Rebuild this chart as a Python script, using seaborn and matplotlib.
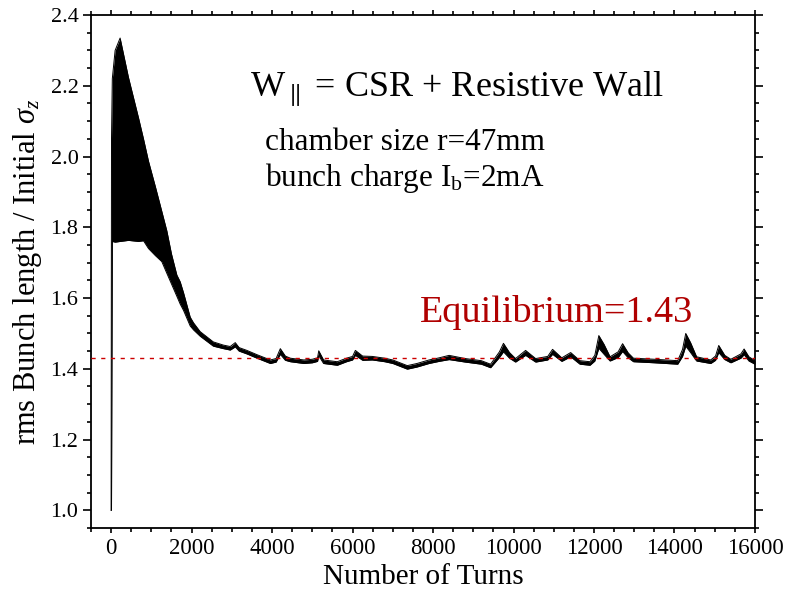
import numpy as np
import pandas as pd
import matplotlib
matplotlib.use("Agg")
import matplotlib.pyplot as plt
import seaborn as sns

# ---------------- data ----------------
# early phase: fast oscillation envelope (turn, lower, upper)
early_turns = [0, 10, 30, 100, 224, 431, 680, 805, 929, 1100, 1260, 1385,
               1500, 1634, 1717, 1800, 1966, 2048, 2214]
early_upper = [1.00, 2.05, 2.22, 2.30, 2.335, 2.224, 2.110, 2.050, 1.987, 1.915,
               1.845, 1.790, 1.725, 1.665, 1.646, 1.615, 1.546, 1.530, 1.505]
early_lower = [1.00, 1.00, 1.760, 1.758, 1.760, 1.763, 1.760, 1.762, 1.740, 1.720,
               1.703, 1.670, 1.640, 1.605, 1.583, 1.565, 1.521, 1.510, 1.492]

# later phase: centre of the band and its half width
late_turns = [2214, 2540, 2790, 2960, 3085, 3180, 3375, 3624, 3956, 4100, 4205,
              4330, 4454, 4790, 5000, 5130, 5160, 5280, 5620, 5850, 6000, 6070,
              6250, 6490, 6800, 7000, 7360, 7600, 7900, 8150, 8400, 8800, 9200,
              9430, 9650, 9750, 9900, 10050, 10300, 10550, 10850, 10970, 11200,
              11420, 11650, 11900, 12020, 12120, 12250, 12400, 12600, 12710,
              12850, 12980, 13500, 14080, 14200, 14280, 14400, 14550, 14900,
              15020, 15100, 15250, 15400, 15650, 15730, 15850, 16000]
late_center = [1.498, 1.470, 1.462, 1.458, 1.468, 1.455, 1.447, 1.435, 1.420, 1.424,
               1.449, 1.430, 1.425, 1.420, 1.422, 1.426, 1.444, 1.420, 1.415, 1.425,
               1.430, 1.445, 1.430, 1.430, 1.425, 1.420, 1.404, 1.410, 1.420, 1.426,
               1.432, 1.424, 1.418, 1.408, 1.440, 1.460, 1.438, 1.424, 1.445, 1.424,
               1.430, 1.448, 1.426, 1.440, 1.418, 1.415, 1.430, 1.476, 1.455, 1.428,
               1.440, 1.460, 1.438, 1.425, 1.422, 1.418, 1.445, 1.482, 1.460, 1.428,
               1.420, 1.430, 1.456, 1.432, 1.422, 1.436, 1.448, 1.428, 1.418]
late_halfw = [0.008, 0.006, 0.005, 0.005, 0.006, 0.005, 0.005, 0.005, 0.005, 0.005,
              0.008, 0.006, 0.005, 0.005, 0.005, 0.005, 0.007, 0.005, 0.005, 0.005,
              0.005, 0.007, 0.006, 0.005, 0.005, 0.005, 0.005, 0.005, 0.005, 0.005,
              0.006, 0.005, 0.005, 0.005, 0.008, 0.012, 0.008, 0.005, 0.007, 0.005,
              0.005, 0.007, 0.005, 0.006, 0.005, 0.005, 0.008, 0.018, 0.014, 0.006,
              0.008, 0.011, 0.007, 0.005, 0.005, 0.005, 0.010, 0.018, 0.014, 0.006,
              0.005, 0.006, 0.010, 0.006, 0.005, 0.006, 0.008, 0.006, 0.005]

equilibrium = 1.43

x_ticks = [0, 2000, 4000, 6000, 8000, 10000, 12000, 14000, 16000]
y_ticks = [1.0, 1.2, 1.4, 1.6, 1.8, 2.0, 2.2, 2.4]

# ---------------- build table ----------------
late_c = np.array(late_center)
late_h = np.array(late_halfw)
df = pd.DataFrame({
    "turn": list(early_turns) + list(late_turns[1:]),
    "lower": list(early_lower) + list((late_c - late_h)[1:]),
    "upper": list(early_upper) + list((late_c + late_h)[1:]),
})

# ---------------- style ----------------
sns.set_theme(style="ticks")
plt.rcParams["font.family"] = ["Liberation Serif", "DejaVu Serif"]
plt.rcParams["mathtext.fontset"] = "custom"
plt.rcParams["mathtext.rm"] = "Liberation Serif"
plt.rcParams["mathtext.it"] = "Liberation Serif:italic"
plt.rcParams["text.color"] = "black"
plt.rcParams["axes.labelcolor"] = "black"

fig = plt.figure(figsize=(7.87, 5.94), dpi=100)
ax = fig.add_axes([0.1156, 0.1111, 0.8437, 0.8636])

ax.fill_between(df["turn"], df["lower"], df["upper"], color="black", linewidth=0)
sns.lineplot(data=df, x="turn", y="upper", ax=ax, color="black", linewidth=0.7,
             estimator=None, sort=False)
sns.lineplot(data=df, x="turn", y="lower", ax=ax, color="black", linewidth=0.7,
             estimator=None, sort=False)

ax.axhline(equilibrium, color="#cc0000", linestyle=(0, (3, 4)), linewidth=1.0, zorder=3)

ax.set_xlim(-500, 16000)
ax.set_ylim(0.95, 2.4)
ax.set_xticks(x_ticks)
ax.set_yticks(y_ticks)
ax.set_xticklabels([str(t) for t in x_ticks])
ax.set_yticklabels([f"{t:.1f}" for t in y_ticks])
ax.set_xticks(np.arange(-500, 16001, 500), minor=True)
ax.set_yticks(np.arange(0.95, 2.401, 0.05), minor=True)

ax.tick_params(which="both", direction="out", top=True, right=True,
               labeltop=False, labelright=False, width=1.2, colors="black")
ax.tick_params(axis="y", which="major", length=6, labelsize=16, pad=3)
ax.tick_params(axis="y", which="minor", length=3)
ax.tick_params(axis="x", which="major", length=3.5, labelsize=16.5, pad=4)
ax.tick_params(axis="x", which="minor", length=3)
for s in ax.spines.values():
    s.set_linewidth(1.3)
    s.set_color("black")

ax.set_xlabel("Number of Turns", fontsize=21, labelpad=3, color="black")
ax.set_ylabel(r"rms Bunch length / Initial $\sigma_z$", fontsize=22, labelpad=5, color="black")

ax.text(0.24, 0.854, r"W$_{\parallel}$ = CSR + Resistive Wall", transform=ax.transAxes,
        fontsize=26, ha="left", va="center", color="black")
ax.text(0.262, 0.752, "chamber size r=47mm", transform=ax.transAxes,
        fontsize=22.5, ha="left", va="center", color="black")
ax.text(0.262, 0.682, r"bunch charge I$_\mathrm{b}$=2mA", transform=ax.transAxes,
        fontsize=22.5, ha="left", va="center", color="black")
ax.text(0.495, 0.421, "Equilibrium=1.43", transform=ax.transAxes,
        fontsize=27.5, ha="left", va="center", color="#b00000")

fig.savefig("out.png", dpi=100)
